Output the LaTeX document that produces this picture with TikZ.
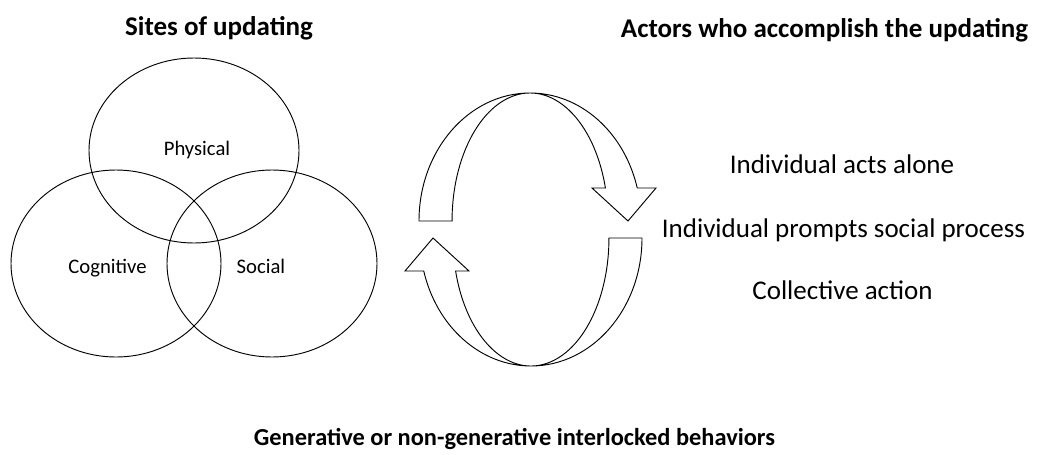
\documentclass[tikz,border=0pt]{standalone}
\usepackage{fontspec}
\setmainfont{Carlito}
\usetikzlibrary{shapes.geometric}
\tikzset{
  site/.style={ellipse, draw, line width=0.7pt, inner sep=0pt, minimum width=157.5pt},
  lbl/.style={anchor=base, inner sep=0pt, font=\fontsize{15.5pt}{18pt}\selectfont},
  big/.style={anchor=base, inner sep=0pt, font=\fontsize{20.25pt}{24pt}\selectfont},
  head/.style={anchor=base, inner sep=0pt, font=\fontsize{20.25pt}{24pt}\selectfont\bfseries},
  foot/.style={anchor=base, inner sep=0pt, font=\fontsize{18.3pt}{22pt}\selectfont\bfseries},
  cyc/.style={draw, line width=0.7pt, line join=miter}
}
\begin{document}
\begin{tikzpicture}[x=0.75pt, y=-0.75pt]
\useasboundingbox (0,0) rectangle (1039,454);
% titles
\node[head] (t1) at (219,35) {Sites of updating};
\node[head] (t2) at (824.5,37) {Actors who accomplish the updating};
\node[foot] (t3) at (514.5,445) {Generative or non-generative interlocked behaviors};
% Venn ellipses
\node[site, minimum height=138.75pt] (phys) at (194,150.5) {};
\node[site, minimum height=140.25pt] (cogn) at (116,263.5) {};
\node[site, minimum height=140.25pt] (soc) at (272,263.5) {};
\node[lbl] (lphys) at (197,155) {Physical};
\node[lbl] (lcogn) at (107.5,273) {Cognitive};
\node[lbl] (lsoc) at (261,273) {Social};
% cycle arrows
\draw[cyc] (419,221) arc[start angle=180, end angle=14.94, x radius=83.25pt, y radius=96pt]
  -- (656,188) -- (628,221) -- (592,188) -- (605.4,188)
  arc[start angle=14.94, end angle=180, x radius=58.5pt, y radius=96pt] -- cycle;
\draw[cyc] (642,238) arc[start angle=0, end angle=-165.06, x radius=83.25pt, y radius=96pt]
  -- (405,271) -- (433,238) -- (469,271) -- (455.6,271)
  arc[start angle=-165.06, end angle=0, x radius=58.5pt, y radius=96pt] -- cycle;
% actors
\node[big] (a1) at (842,173) {Individual acts alone};
\node[big] (a2) at (843.5,237) {Individual prompts social process};
\node[big] (a3) at (842.5,299) {Collective action};
\end{tikzpicture}
\end{document}
